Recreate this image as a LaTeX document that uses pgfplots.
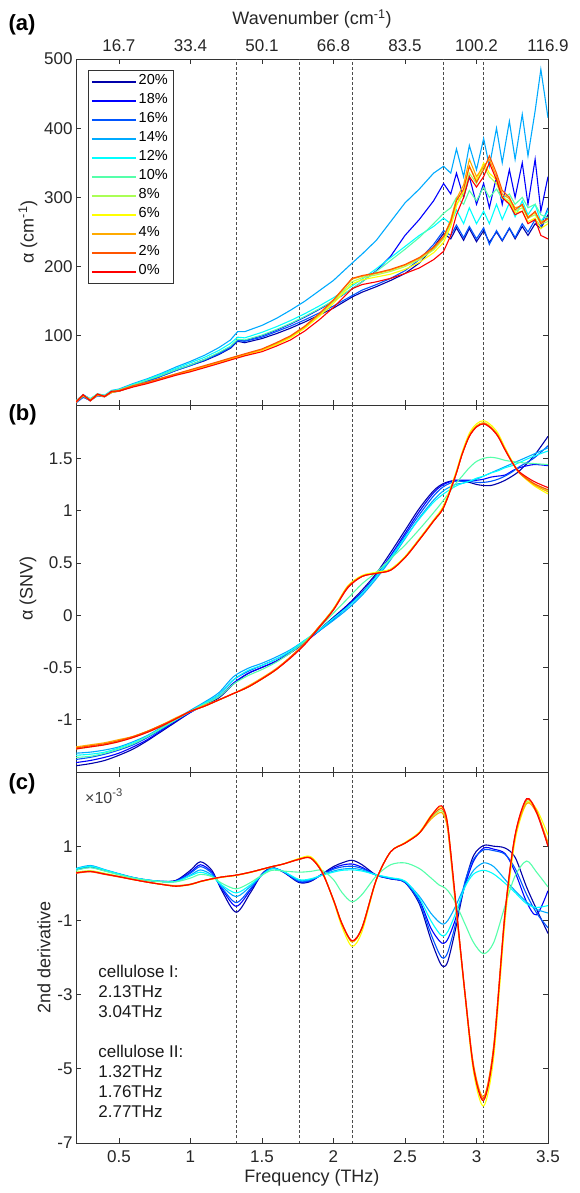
\documentclass[border=0pt]{standalone}
\usepackage{pgfplots}
\usepackage{pgfplotstable}
\pgfplotsset{compat=1.18}
\usepackage{fontspec}
\setmainfont{Liberation Sans}
\definecolor{col20}{rgb}{0,0,0.667}
\definecolor{col18}{rgb}{0,0,1}
\definecolor{col16}{rgb}{0,0.333,1}
\definecolor{col14}{rgb}{0,0.667,1}
\definecolor{col12}{rgb}{0,1,1}
\definecolor{col10}{rgb}{0.333,1,0.667}
\definecolor{col8}{rgb}{0.667,1,0.333}
\definecolor{col6}{rgb}{1,1,0}
\definecolor{col4}{rgb}{1,0.667,0}
\definecolor{col2}{rgb}{1,0.333,0}
\definecolor{col0}{rgb}{1,0,0}
\definecolor{axgray}{gray}{0.2}

\pgfplotstableread{
x c20 c18 c16 c14 c12 c10 c8 c6 c4 c2 c0
0.20 4 5 3 6 5 6 5 4 4 5 4
0.25 12 13 11 15 14 14 14 13 14 14 15
0.30 6 8 7 9 9 8 8 7 6 7 6
0.35 14 15 13 16 16 15 16 15 14 15 16
0.40 12 13 12 14 14 13 13 12 12 13 12
0.45 19 20 18 21 21 20 19 19 18 19 20
0.50 20 21 20 23 22 22 21 20 20 21 20
0.60 27 28 28 31 30 29 28 27 27 28 26
0.70 34 35 34 38 37 36 33 32 32 33 31
0.80 42 43 42 46 45 43 39 38 38 39 37
0.90 50 51 50 55 53 51 45 44 44 45 43
1.00 57 58 57 63 61 58 50 49 50 51 48
1.10 64 66 65 72 69 66 56 55 56 57 54
1.20 73 75 74 83 79 76 62 61 62 63 60
1.28 82 84 83 94 89 85 67 66 67 68 65
1.33 92 94 93 106 98 95 70 69 70 71 68
1.38 90 93 92 106 97 94 73 72 73 74 71
1.50 96 100 98 115 105 101 80 79 80 81 77
1.60 103 108 106 125 113 109 88 87 89 90 85
1.70 111 117 114 137 122 118 98 97 99 100 94
1.80 120 127 123 150 132 128 112 111 113 114 107
1.90 130 138 133 165 143 139 130 128 131 132 123
2.00 140 150 143 180 155 151 150 147 151 152 141
2.13 156 168 158 205 172 168 178 175 182 183 168
2.20 163 178 166 218 182 178 184 181 186 187 174
2.30 171 194 174 238 197 193 188 185 190 191 178
2.40 180 215 183 265 213 209 193 189 195 196 183
2.50 190 245 194 292 229 225 200 196 202 203 190
2.60 205 268 210 312 245 242 210 206 212 213 198
2.70 228 295 232 335 258 262 224 220 226 228 210
2.77 248 320 252 345 270 277 240 235 242 244 222
2.82 240 305 245 335 262 285 262 258 268 265 245
2.86 256 335 260 370 282 300 290 288 298 295 275
2.91 238 300 242 330 262 290 305 310 318 312 300
2.95 255 330 258 375 285 310 335 345 355 345 330
3.00 236 290 240 340 262 295 320 325 330 322 315
3.05 252 320 256 385 280 315 345 350 345 340 330
3.09 235 285 232 345 262 300 330 335 355 360 350
3.14 250 330 252 400 290 312 320 325 330 335 325
3.18 237 290 238 350 268 298 300 300 305 310 300
3.23 255 340 256 410 292 305 295 292 298 300 290
3.27 240 300 242 355 272 290 280 278 285 282 275
3.32 258 350 262 420 295 300 285 280 288 290 280
3.36 245 290 250 360 275 285 270 265 272 270 262
3.41 262 355 268 425 290 290 275 270 278 280 268
3.45 255 280 258 485 265 275 262 255 265 262 245
3.50 275 330 285 415 280 270 265 262 268 270 240
}\tabA

\pgfplotstableread{
x c20 c18 c16 c14 c12 c10 c8 c6 c4 c2 c0
0.2 -1.44 -1.41 -1.38 -1.32 -1.34 -1.36 -1.28 -1.27 -1.26 -1.27 -1.28
0.3 -1.42 -1.39 -1.36 -1.31 -1.33 -1.35 -1.26 -1.25 -1.24 -1.25 -1.26
0.4 -1.39 -1.36 -1.33 -1.29 -1.31 -1.32 -1.24 -1.23 -1.22 -1.23 -1.24
0.5 -1.34 -1.32 -1.29 -1.26 -1.27 -1.28 -1.21 -1.20 -1.19 -1.20 -1.21
0.6 -1.28 -1.26 -1.24 -1.21 -1.22 -1.23 -1.17 -1.16 -1.16 -1.16 -1.17
0.7 -1.20 -1.19 -1.17 -1.15 -1.16 -1.16 -1.12 -1.11 -1.11 -1.11 -1.12
0.8 -1.11 -1.10 -1.09 -1.07 -1.08 -1.08 -1.06 -1.05 -1.05 -1.05 -1.06
0.9 -1.02 -1.01 -1.00 -0.99 -1.00 -1.00 -0.99 -0.99 -0.98 -0.99 -0.99
1.0 -0.93 -0.93 -0.92 -0.91 -0.92 -0.92 -0.92 -0.92 -0.92 -0.92 -0.92
1.1 -0.86 -0.85 -0.84 -0.83 -0.84 -0.85 -0.87 -0.87 -0.86 -0.87 -0.87
1.2 -0.79 -0.78 -0.76 -0.74 -0.76 -0.78 -0.81 -0.81 -0.81 -0.81 -0.81
1.3 -0.66 -0.65 -0.62 -0.59 -0.62 -0.66 -0.75 -0.75 -0.75 -0.75 -0.75
1.4 -0.56 -0.56 -0.54 -0.51 -0.53 -0.58 -0.69 -0.69 -0.68 -0.69 -0.69
1.5 -0.50 -0.50 -0.48 -0.46 -0.48 -0.52 -0.61 -0.61 -0.60 -0.61 -0.61
1.6 -0.44 -0.44 -0.42 -0.40 -0.42 -0.45 -0.52 -0.52 -0.51 -0.52 -0.52
1.7 -0.36 -0.36 -0.35 -0.33 -0.34 -0.36 -0.40 -0.40 -0.40 -0.40 -0.41
1.8 -0.26 -0.26 -0.25 -0.24 -0.24 -0.25 -0.27 -0.27 -0.27 -0.27 -0.28
1.9 -0.14 -0.15 -0.15 -0.15 -0.14 -0.12 -0.11 -0.11 -0.11 -0.11 -0.12
2.0 -0.02 -0.03 -0.04 -0.05 -0.03 0.02 0.06 0.06 0.06 0.05 0.05
2.1 0.10 0.09 0.08 0.06 0.08 0.16 0.27 0.28 0.27 0.27 0.26
2.2 0.24 0.22 0.21 0.19 0.21 0.30 0.37 0.38 0.37 0.37 0.37
2.3 0.40 0.38 0.37 0.35 0.37 0.41 0.41 0.41 0.40 0.40 0.40
2.4 0.60 0.57 0.55 0.53 0.55 0.54 0.44 0.44 0.43 0.43 0.43
2.5 0.81 0.78 0.76 0.73 0.74 0.67 0.56 0.56 0.55 0.55 0.55
2.6 1.02 0.99 0.96 0.93 0.92 0.82 0.73 0.73 0.72 0.72 0.72
2.7 1.19 1.17 1.14 1.10 1.08 0.98 0.91 0.91 0.90 0.90 0.90
2.77 1.26 1.25 1.23 1.19 1.16 1.10 1.04 1.05 1.03 1.03 1.03
2.85 1.29 1.29 1.28 1.25 1.23 1.25 1.33 1.34 1.32 1.32 1.32
2.9 1.28 1.29 1.28 1.26 1.26 1.33 1.55 1.56 1.54 1.54 1.54
2.95 1.27 1.29 1.28 1.28 1.28 1.41 1.72 1.74 1.72 1.71 1.71
3.0 1.25 1.29 1.27 1.30 1.31 1.47 1.81 1.83 1.81 1.80 1.80
3.05 1.24 1.30 1.27 1.33 1.33 1.50 1.84 1.86 1.84 1.83 1.83
3.1 1.24 1.32 1.28 1.36 1.36 1.51 1.80 1.82 1.80 1.79 1.79
3.15 1.26 1.33 1.30 1.39 1.38 1.50 1.72 1.74 1.72 1.71 1.71
3.2 1.29 1.34 1.33 1.42 1.41 1.48 1.59 1.60 1.59 1.58 1.58
3.25 1.33 1.38 1.37 1.45 1.43 1.47 1.47 1.47 1.46 1.46 1.46
3.3 1.38 1.41 1.42 1.48 1.46 1.46 1.37 1.36 1.36 1.36 1.37
3.4 1.52 1.44 1.50 1.54 1.52 1.45 1.26 1.24 1.25 1.26 1.28
3.5 1.71 1.43 1.62 1.60 1.57 1.44 1.19 1.16 1.18 1.20 1.22
}\tabB

\pgfplotstableread{
x c20 c18 c16 c14 c12 c10 c8 c6 c4 c2 c0
0.2 0.38 0.36 0.37 0.40 0.39 0.35 0.30 0.29 0.28 0.27 0.28
0.3 0.45 0.43 0.44 0.48 0.46 0.42 0.34 0.33 0.32 0.31 0.32
0.4 0.35 0.34 0.35 0.37 0.36 0.33 0.27 0.26 0.25 0.24 0.25
0.5 0.25 0.24 0.25 0.26 0.25 0.23 0.19 0.18 0.18 0.17 0.18
0.6 0.15 0.15 0.15 0.16 0.15 0.14 0.11 0.10 0.10 0.10 0.10
0.7 0.08 0.08 0.09 0.09 0.09 0.08 0.04 0.03 0.03 0.03 0.03
0.8 0.05 0.05 0.05 0.05 0.05 0.04 -0.02 -0.03 -0.03 -0.03 -0.03
0.9 0.08 0.07 0.06 0.05 0.05 0.04 -0.06 -0.08 -0.07 -0.07 -0.08
1.0 0.35 0.30 0.27 0.22 0.20 0.14 -0.02 -0.04 -0.03 -0.03 -0.03
1.07 0.58 0.50 0.45 0.36 0.30 0.24 0.05 0.04 0.05 0.05 0.05
1.15 0.35 0.30 0.27 0.22 0.19 0.18 0.12 0.11 0.12 0.12 0.12
1.22 -0.20 -0.15 -0.12 -0.08 -0.05 0.00 0.17 0.16 0.17 0.17 0.17
1.32 -0.78 -0.62 -0.52 -0.36 -0.26 -0.15 0.22 0.21 0.22 0.22 0.22
1.42 -0.25 -0.18 -0.14 -0.08 -0.04 0.02 0.30 0.29 0.30 0.30 0.30
1.5 0.25 0.24 0.24 0.22 0.22 0.22 0.38 0.37 0.38 0.38 0.38
1.57 0.42 0.41 0.41 0.40 0.39 0.35 0.45 0.44 0.45 0.45 0.45
1.65 0.30 0.31 0.31 0.32 0.32 0.33 0.52 0.52 0.52 0.52 0.52
1.76 0.02 0.04 0.05 0.08 0.10 0.30 0.66 0.67 0.65 0.64 0.65
1.84 0.05 0.07 0.08 0.10 0.12 0.32 0.70 0.72 0.69 0.68 0.68
1.92 0.25 0.24 0.23 0.22 0.22 0.35 0.32 0.34 0.31 0.30 0.30
2.0 0.45 0.41 0.38 0.33 0.30 0.10 -0.45 -0.48 -0.45 -0.44 -0.45
2.06 0.55 0.49 0.44 0.38 0.35 -0.25 -1.10 -1.18 -1.10 -1.08 -1.10
2.13 0.62 0.52 0.46 0.40 0.36 -0.50 -1.58 -1.70 -1.58 -1.55 -1.55
2.2 0.50 0.43 0.40 0.36 0.33 -0.30 -1.20 -1.30 -1.20 -1.18 -1.20
2.3 0.22 0.22 0.22 0.22 0.23 0.20 0.10 0.08 0.10 0.10 0.10
2.4 0.12 0.12 0.13 0.14 0.15 0.50 0.85 0.85 0.85 0.85 0.85
2.5 0.02 0.03 0.03 0.05 0.06 0.55 1.08 1.10 1.08 1.08 1.08
2.6 -0.55 -0.45 -0.50 -0.35 -0.40 0.40 1.35 1.38 1.35 1.35 1.35
2.68 -1.50 -1.20 -1.35 -0.80 -1.00 0.15 1.75 1.82 1.72 1.78 1.80
2.74 -2.10 -1.55 -1.90 -1.05 -1.35 -0.05 1.95 2.05 1.90 2.00 2.08
2.77 -2.25 -1.62 -2.02 -1.10 -1.42 -0.10 1.90 2.00 1.85 1.96 2.02
2.8 -2.10 -1.50 -1.85 -1.00 -1.30 -0.20 1.45 1.55 1.40 1.50 1.55
2.85 -1.30 -1.00 -1.15 -0.65 -0.85 -0.50 -0.40 -0.35 -0.45 -0.35 -0.30
2.92 0.00 -0.05 0.05 -0.05 -0.10 -1.10 -3.00 -3.05 -3.00 -2.95 -3.00
2.98 0.75 0.60 0.65 0.35 0.25 -1.60 -5.00 -5.10 -4.90 -4.95 -5.00
3.05 1.02 0.95 0.90 0.55 0.35 -1.90 -5.85 -6.00 -5.75 -5.80 -5.85
3.12 1.00 0.92 0.88 0.45 0.25 -1.60 -4.50 -4.70 -4.40 -4.40 -4.50
3.2 0.95 0.80 0.78 0.10 0.00 -0.60 -0.85 -1.00 -0.80 -0.75 -0.80
3.27 0.70 0.30 0.40 -0.20 -0.25 0.20 1.25 1.15 1.25 1.30 1.30
3.35 -0.10 -0.50 -0.30 -0.50 -0.55 0.60 2.20 2.15 2.15 2.25 2.28
3.42 -0.70 -0.85 -0.80 -0.70 -0.65 0.30 1.95 2.00 1.90 1.95 1.90
3.5 -1.35 -0.20 -1.20 -0.80 -0.60 -0.10 1.05 1.30 1.10 1.00 1.00
}\tabC

\pgfplotsset{
  panel/.style={
    scale only axis, width=472pt,
    xmin=0.2, xmax=3.5,
    xtick={0.5,1,1.5,2,2.5,3,3.5},
    tick align=inside,
    major tick length=5pt,
    /pgf/number format/assume math mode=true,
    axis line style={axgray, line width=0.8pt},
    tick style={axgray, line width=0.6pt},
    ticklabel style={font=\fontsize{17}{20}\selectfont, text=black!85},
    label style={font=\fontsize{18}{21}\selectfont, text=black!85},
    clip mode=individual,
    every axis plot/.append style={line width=1.1pt},
  },
  vline/.style={black!70, line width=0.8pt, dash pattern=on 2.5pt off 2.5pt, forget plot},
}

\begin{document}
\begin{tikzpicture}
% ---------- panel (a)
\begin{axis}[panel, at={(76pt,788pt)}, anchor=south west, height=346pt,
  ymin=0, ymax=500, ytick={100,200,300,400,500},
  yticklabels={100,200,300,400,500},
  xticklabel pos=upper,
  xticklabels={16.7,33.4,50.1,66.8,83.5,100.2,116.9},
  xticklabel style={yshift=4pt},
  ylabel={α (cm\textsuperscript{-1})},
  legend style={at={(0.0254,0.968)}, anchor=north west, draw=axgray,
    font=\fontsize{14.5}{16}\selectfont, row sep=0pt, inner xsep=3pt, inner ysep=2pt,
    nodes={inner ysep=1.5pt, text height=11pt, text depth=5pt}},
  legend cell align=left,
  legend image code/.code={\draw[#1, line width=1.5pt] (0pt,0pt) -- (44pt,0pt);},
]
\addplot[vline] coordinates {(1.32,0) (1.32,500)};
\addplot[vline] coordinates {(1.76,0) (1.76,500)};
\addplot[vline] coordinates {(2.13,0) (2.13,500)};
\addplot[vline] coordinates {(2.77,0) (2.77,500)};
\addplot[vline] coordinates {(3.05,0) (3.05,500)};
\pgfplotsinvokeforeach{20,18,16,14,12,10,8,6,4,2,0}{
  \addplot[col#1] table[x=x, y=c#1] {\tabA};
}
\legend{20\%,18\%,16\%,14\%,12\%,10\%,8\%,6\%,4\%,2\%,0\%}
\node[anchor=base, font=\fontsize{18}{21}\selectfont, text=black!85] at (rel axis cs:0.5,1) [yshift=34pt] {Wavenumber (cm\textsuperscript{-1})};
\end{axis}
% ---------- panel (b)
\begin{axis}[panel, at={(76pt,421pt)}, anchor=south west, height=367pt,
  ymin=-1.5, ymax=2.01, ytick={-1,-0.5,0,0.5,1,1.5},
  yticklabels={-1,-0.5,0,0.5,1,1.5},
  xticklabels={},
  ylabel={α (SNV)},
]
\addplot[vline] coordinates {(1.32,-1.5) (1.32,2.01)};
\addplot[vline] coordinates {(1.76,-1.5) (1.76,2.01)};
\addplot[vline] coordinates {(2.13,-1.5) (2.13,2.01)};
\addplot[vline] coordinates {(2.77,-1.5) (2.77,2.01)};
\addplot[vline] coordinates {(3.05,-1.5) (3.05,2.01)};
\pgfplotsinvokeforeach{20,18,16,14,12,10,8,6,4,2,0}{
  \addplot[col#1, smooth, tension=0.5] table[x=x, y=c#1] {\tabB};
}
\end{axis}
% ---------- panel (c)
\begin{axis}[panel, at={(76pt,50pt)}, anchor=south west, height=371pt,
  ymin=-7, ymax=3, ytick={-7,-5,-3,-1,1},
  yticklabels={-7,-5,-3,-1,1},
  xticklabels={0.5,1,1.5,2,2.5,3,3.5},
  xticklabel style={yshift=-4pt},
  xlabel={Frequency (THz)},
  ylabel={2nd derivative},
]
\addplot[vline] coordinates {(1.32,-7) (1.32,3)};
\addplot[vline] coordinates {(1.76,-7) (1.76,3)};
\addplot[vline] coordinates {(2.13,-7) (2.13,3)};
\addplot[vline] coordinates {(2.77,-7) (2.77,3)};
\addplot[vline] coordinates {(3.05,-7) (3.05,3)};
\pgfplotsinvokeforeach{20,18,16,14,12,10,8,6,4,2,0}{
  \addplot[col#1, smooth, tension=0.5] table[x=x, y=c#1] {\tabC};
}
\node[anchor=west, font=\fontsize{16}{19}\selectfont, text=black!75] at (rel axis cs:0.012,0.935) {×10\textsuperscript{-3}};
\node[anchor=north west, align=left, font=\fontsize{17}{20}\selectfont, text=black!90] at (rel axis cs:0.04,0.49)
  {cellulose I:\\2.13THz\\3.04THz\\[20pt]cellulose II:\\1.32THz\\1.76THz\\2.77THz};
\end{axis}
% panel letters
\node[anchor=base west, font=\bfseries\fontsize{22}{26}\selectfont] at (5pt,1162pt) {(a)};
\node[anchor=base west, font=\bfseries\fontsize{22}{26}\selectfont] at (5pt,772pt) {(b)};
\node[anchor=base west, font=\bfseries\fontsize{22}{26}\selectfont] at (5pt,403pt) {(c)};
\pgfresetboundingbox
\path (0pt,0pt) rectangle (580pt,1193pt);
\end{tikzpicture}
\end{document}
